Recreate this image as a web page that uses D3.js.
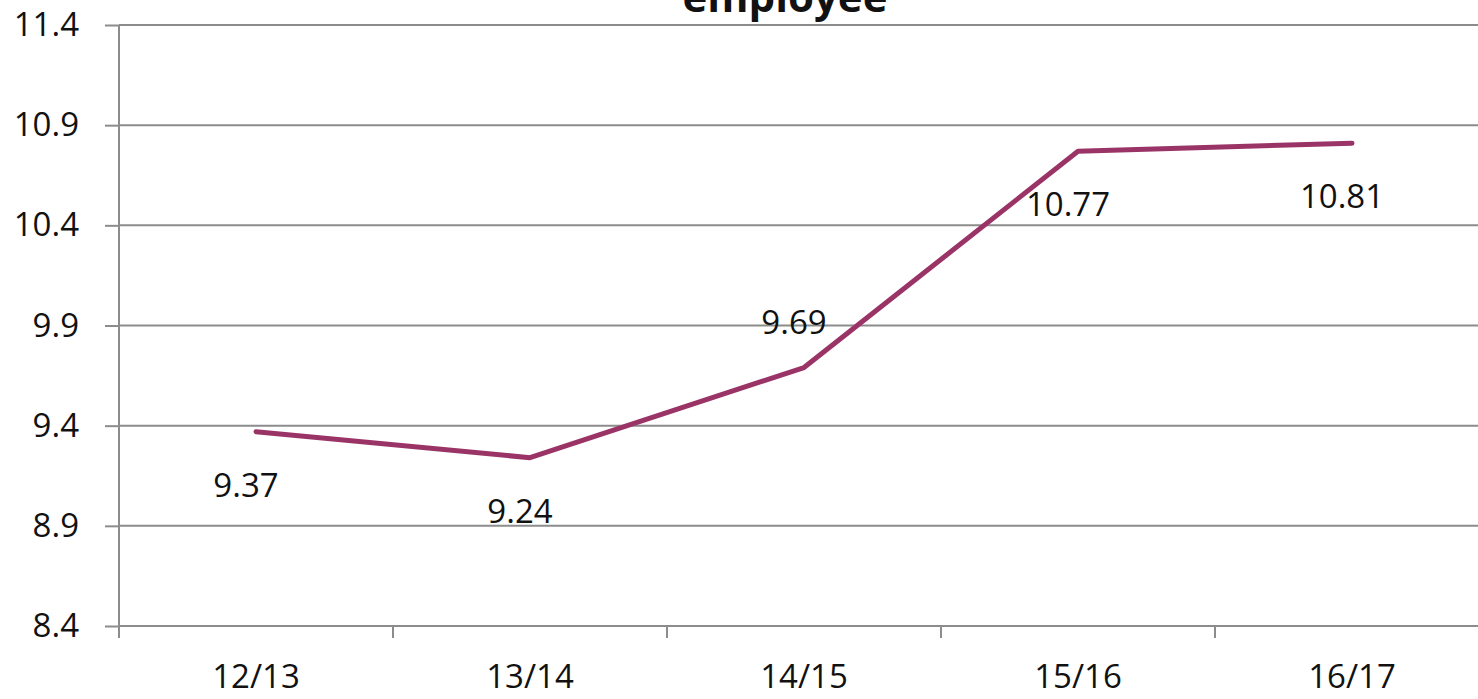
<!DOCTYPE html>
<html>
<head>
<meta charset="utf-8">
<script src="https://cdn.jsdelivr.net/npm/d3@7"></script>
<style>
  html, body { margin: 0; padding: 0; background: #fff; overflow: hidden; }
  svg { display: block; font-family: "Open Sans", "Noto Sans", sans-serif; }
</style>
</head>
<body>
<svg id="chart" width="1478" height="699"></svg>
<script>
const categories = ["12/13", "13/14", "14/15", "15/16", "16/17"];
const values = [9.37, 9.24, 9.69, 10.77, 10.81];
const labelSide = ["below", "below", "above", "below", "below"];
const yTicks = [8.4, 8.9, 9.4, 9.9, 10.4, 10.9, 11.4];
const titleText = "employee";

const svg = d3.select("#chart");
const plotLeft = 119, plotRight = 1489, plotTop = 25, plotBottom = 626;
const gridColor = "#8c8c8c";
const lineColor = "#9b3466";
const fontSize = 33;

const x = d3.scaleBand().domain(categories).range([plotLeft, plotRight]).padding(0);
const y = d3.scaleLinear().domain([8.4, 11.4]).range([plotBottom, plotTop]);

// y axis labels + left ticks
const yAxis = d3.axisLeft(y).tickValues(yTicks).tickFormat(d3.format(".1f"))
  .tickSize(14).tickPadding(26);
const gy = svg.append("g").attr("transform", `translate(${plotLeft},0)`).call(yAxis);
gy.select(".domain").remove();
gy.selectAll(".tick line").attr("stroke", gridColor).attr("stroke-width", 2);
gy.selectAll(".tick text").attr("font-size", fontSize).attr("fill", "#111")
  .attr("font-family", "'Open Sans', sans-serif");

// gridlines
svg.append("g").selectAll("line").data(yTicks).join("line")
  .attr("x1", plotLeft).attr("x2", 1478)
  .attr("y1", d => y(d)).attr("y2", d => y(d))
  .attr("stroke", gridColor).attr("stroke-width", 2);

// y axis line
svg.append("line").attr("x1", plotLeft).attr("x2", plotLeft)
  .attr("y1", plotTop).attr("y2", plotBottom + 10)
  .attr("stroke", gridColor).attr("stroke-width", 2);

// x axis labels
const xAxis = d3.axisBottom(x).tickSize(0).tickPadding(39);
const gx = svg.append("g").attr("transform", `translate(0,${plotBottom})`).call(xAxis);
gx.select(".domain").remove();
gx.selectAll(".tick text").attr("font-size", fontSize).attr("fill", "#111")
  .attr("font-family", "'Open Sans', sans-serif");

// band boundary ticks
const boundaries = categories.map(c => x(c)).concat([x(categories[categories.length - 1]) + x.bandwidth()]);
svg.append("g").selectAll("line").data(boundaries).join("line")
  .attr("x1", d => d).attr("x2", d => d)
  .attr("y1", plotBottom).attr("y2", plotBottom + 12)
  .attr("stroke", gridColor).attr("stroke-width", 2);

// line
const cx = i => x(categories[i]) + x.bandwidth() / 2;
const line = d3.line().x((d, i) => cx(i)).y(d => y(d));
svg.append("path").datum(values).attr("d", line)
  .attr("fill", "none").attr("stroke", lineColor).attr("stroke-width", 5)
  .attr("stroke-linejoin", "round").attr("stroke-linecap", "round");

// data labels
svg.append("g").selectAll("text").data(values).join("text")
  .attr("x", (d, i) => cx(i) - 10)
  .attr("y", (d, i) => y(d) + (labelSide[i] === "above" ? -34 : 65))
  .attr("text-anchor", "middle")
  .attr("font-size", fontSize).attr("fill", "#111")
  .text(d => d.toFixed(2));

// title (cut off at top, as in the reference)
svg.append("text").attr("x", 785).attr("y", 12)
  .attr("text-anchor", "middle").attr("font-weight", "bold")
  .attr("font-size", 42).attr("fill", "#111")
  .text(titleText);
</script>
</body>
</html>
